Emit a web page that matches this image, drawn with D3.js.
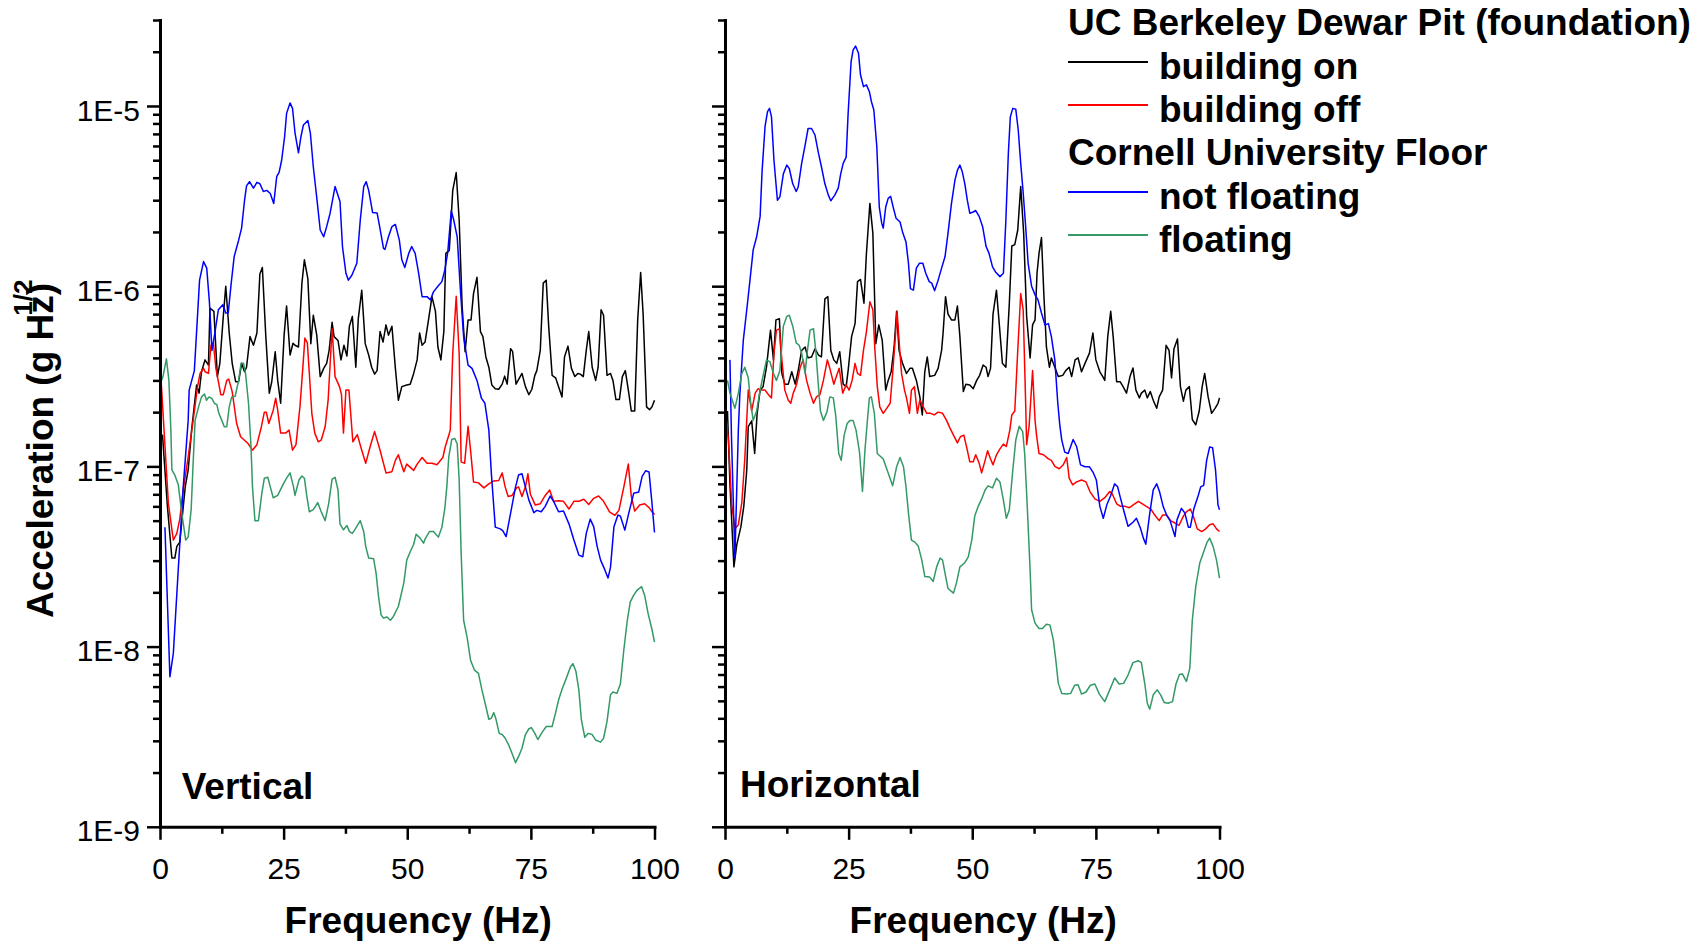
<!DOCTYPE html>
<html><head><meta charset="utf-8">
<script src="https://cdn.jsdelivr.net/npm/d3@7"></script>
<style>
html,body{margin:0;padding:0;background:#fff;}
svg{display:block;}
text{font-family:"Liberation Sans",Arial,Helvetica,sans-serif;}
</style></head><body>
<svg id="chart" width="1703" height="943"></svg>
<script>
// ---------- labels ----------
const panelNames = ["Vertical", "Horizontal"];
const seriesNames = ["building on", "building off", "not floating", "floating"];
const seriesColors = ["#000000", "#ff0000", "#0000ff", "#339966"];
const legendGroups = ["UC Berkeley Dewar Pit (foundation)", "Cornell University Floor"];
const xTickValues = [0, 25, 50, 75, 100];
const xMinorTickValues = [12.5, 37.5, 62.5, 87.5];
const yTickValues = [1e-9, 1e-8, 1e-7, 1e-6, 1e-5];
const yTickLabels = ["1E-9", "1E-8", "1E-7", "1E-6", "1E-5"];
const xTitle = "Frequency (Hz)";
const yTitle = "Acceleration (g Hz";
const yTitleSup = "1/2";

// ---------- data: [frequency Hz, acceleration] ----------
const vertOn = [[0.5,1.5e-7],[1.5,6e-8],[2.4,3.1e-8],[3.0,3.1e-8],[3.4,3.6e-8],[4.0,3.8e-8],[5.1,7.7e-8],[5.7,9.55e-8],[6.4,1.6e-7],[7.4,2.83e-7],[7.9,2.55e-7],[8.4,3.35e-7],[9.1,3.9e-7],[9.8,3.65e-7],[10.1,7.55e-7],[10.9,7.25e-7],[11.6,3.15e-7],[12.1,3.73e-7],[12.8,6.8e-7],[13.3,1.0e-6],[14.0,5.5e-7],[14.6,3.73e-7],[15.3,2.95e-7],[15.9,2.95e-7],[16.5,3.73e-7],[17.1,3.35e-7],[17.5,3.55e-7],[18.2,5.25e-7],[18.9,4.7e-7],[19.6,5.5e-7],[20.2,1.17e-6],[20.7,1.27e-6],[21.4,5.25e-7],[22.1,2.55e-7],[22.6,2.95e-7],[23.3,4.33e-7],[23.8,3.0e-7],[24.4,2.24e-7],[25.1,5.35e-7],[25.6,7.77e-7],[26.3,4.15e-7],[26.9,4.82e-7],[27.3,4.7e-7],[28.0,4.6e-7],[28.7,1.04e-6],[29.2,1.4e-6],[29.9,1.1e-6],[30.5,4.8e-7],[31.0,6.9e-7],[31.7,5.35e-7],[32.4,3.15e-7],[33.1,3.5e-7],[33.7,3.73e-7],[34.2,4.4e-7],[34.8,6.3e-7],[35.2,5.25e-7],[36.0,5.0e-7],[36.6,3.9e-7],[37.2,4.7e-7],[37.8,4.1e-7],[38.3,6.0e-7],[38.9,6.8e-7],[39.6,3.55e-7],[40.1,6.6e-7],[40.8,9.5e-7],[41.5,4.8e-7],[42.2,4.15e-7],[42.8,3.55e-7],[43.4,3.25e-7],[43.9,3.4e-7],[44.5,5.6e-7],[45.1,4.9e-7],[45.7,6.1e-7],[46.2,5.35e-7],[46.9,6.0e-7],[47.6,3.5e-7],[48.2,2.33e-7],[48.9,2.77e-7],[49.9,2.83e-7],[50.6,2.86e-7],[51.3,3.28e-7],[52.0,3.9e-7],[52.5,5.5e-7],[53.0,4.7e-7],[53.6,4.9e-7],[54.3,6.5e-7],[55.0,8.75e-7],[55.7,7.25e-7],[56.2,4.6e-7],[56.8,3.9e-7],[57.4,5.6e-7],[57.8,1.52e-6],[58.5,1.58e-6],[59.2,3.4e-6],[59.9,4.27e-6],[60.5,2.33e-6],[61.1,7.7e-7],[61.7,4.33e-7],[62.3,6.5e-7],[62.9,6.5e-7],[63.4,9.1e-7],[64.1,1.12e-6],[64.8,5.6e-7],[65.3,5.25e-7],[65.9,4.05e-7],[66.5,3.55e-7],[67.1,2.83e-7],[67.8,2.7e-7],[68.5,2.68e-7],[69.2,2.86e-7],[69.7,3.17e-7],[70.2,2.86e-7],[70.9,4.5e-7],[71.3,4.35e-7],[72.0,2.86e-7],[72.7,3.1e-7],[73.2,3.28e-7],[73.9,2.77e-7],[74.6,2.5e-7],[75.2,2.68e-7],[75.8,3.2e-7],[76.2,3.4e-7],[76.9,4.4e-7],[77.5,1.04e-6],[78.1,1.08e-6],[78.6,6.0e-7],[79.3,3.2e-7],[80.0,3.1e-7],[80.6,2.77e-7],[81.3,2.43e-7],[81.8,4.05e-7],[82.5,4.65e-7],[83.2,3.5e-7],[83.9,3.15e-7],[84.5,3.28e-7],[85.0,3.25e-7],[85.6,3.15e-7],[86.2,4.4e-7],[86.7,5.6e-7],[87.4,3.55e-7],[88.1,3.0e-7],[88.6,3.55e-7],[89.2,7.4e-7],[89.7,6.9e-7],[90.4,3.2e-7],[91.1,3.28e-7],[91.6,3.0e-7],[92.2,2.35e-7],[92.9,2.35e-7],[93.5,3.15e-7],[94.1,3.4e-7],[94.8,2.55e-7],[95.3,2.03e-7],[96.0,2.03e-7],[96.6,6.5e-7],[97.2,1.19e-6],[97.7,7.0e-7],[98.4,2.14e-7],[99.0,2.06e-7],[99.5,2.14e-7],[100,2.33e-7]];

const vertOff = [[0,3.2e-7],[0.3,2.77e-7],[0.7,1.8e-7],[1.7,6.2e-8],[2.7,3.9e-8],[3.4,4.25e-8],[4.0,5.1e-8],[4.7,7.4e-8],[5.7,1.13e-7],[6.7,1.8e-7],[7.6,2.77e-7],[8.1,3.28e-7],[8.8,3.5e-7],[9.1,3.35e-7],[9.8,3.28e-7],[10.3,4.7e-7],[10.8,4.85e-7],[11.3,3.5e-7],[12.3,2.5e-7],[12.8,2.5e-7],[13.5,3.0e-7],[13.9,3.05e-7],[14.6,2.6e-7],[15.5,1.73e-7],[16.3,1.46e-7],[17.8,1.34e-7],[18.7,1.23e-7],[19.6,1.32e-7],[20.5,1.66e-7],[21.1,2.0e-7],[21.5,2.0e-7],[22.0,1.73e-7],[22.9,2.05e-7],[23.4,2.39e-7],[23.8,2.05e-7],[24.4,1.53e-7],[25.4,1.53e-7],[26.1,1.59e-7],[26.8,1.23e-7],[27.5,1.32e-7],[28.3,2.14e-7],[28.9,3.58e-7],[29.3,5.15e-7],[29.8,4.85e-7],[30.2,3.28e-7],[30.7,1.97e-7],[31.3,1.53e-7],[32.0,1.37e-7],[32.6,1.4e-7],[33.4,1.66e-7],[34.0,2.33e-7],[34.8,5.8e-7],[35.4,3.15e-7],[36.3,2.77e-7],[36.7,2.5e-7],[37.1,1.53e-7],[37.6,2.65e-7],[38.2,2.65e-7],[39.0,1.37e-7],[39.9,1.5e-7],[40.8,1.23e-7],[41.6,1.04e-7],[42.5,1.29e-7],[43.4,1.56e-7],[44.5,1.23e-7],[45.7,9.2e-8],[46.9,9.35e-8],[47.6,1.08e-7],[48.2,1.16e-7],[49.3,9.35e-8],[49.9,1.03e-7],[51.3,9.5e-8],[52.0,1.03e-7],[53.0,1.12e-7],[54.0,1.04e-7],[55.0,1.04e-7],[56.0,1.02e-7],[57.2,1.12e-7],[57.7,1.29e-7],[58.4,1.49e-7],[58.7,1.59e-7],[59.2,4.23e-7],[59.9,8.8e-7],[60.5,4.2e-7],[60.9,1.06e-7],[61.6,1.04e-7],[62.3,1.67e-7],[62.8,1.23e-7],[63.4,8.2e-8],[64.4,8.1e-8],[65.5,7.6e-8],[66.5,8.0e-8],[67.5,8.3e-8],[68.5,8.35e-8],[69.2,9.2e-8],[69.8,7.7e-8],[70.4,6.8e-8],[71.2,6.9e-8],[72.1,7.6e-8],[72.5,7.7e-8],[73.2,6.8e-8],[73.9,7.7e-8],[74.4,9.1e-8],[74.9,7.0e-8],[75.9,6.1e-8],[76.9,6.2e-8],[77.9,6.9e-8],[78.8,7.4e-8],[79.6,6.4e-8],[80.6,6.45e-8],[81.6,6.4e-8],[82.7,5.8e-8],[83.7,6.4e-8],[84.7,6.4e-8],[85.7,6.57e-8],[86.7,6.15e-8],[87.7,6.65e-8],[88.7,6.85e-8],[89.7,6.4e-8],[90.9,5.6e-8],[92.0,5.35e-8],[92.8,5.7e-8],[93.8,7.7e-8],[94.7,1.03e-7],[95.3,6.85e-8],[96.0,5.65e-8],[97.0,6.1e-8],[98.0,6.2e-8],[98.9,5.9e-8],[99.5,5.6e-8],[100,5.4e-8]];

const vertNotFloating = [[1.0,4.6e-8],[2.0,6.8e-9],[2.7,9.2e-9],[3.7,2.7e-8],[4.7,7.7e-8],[5.7,1.8e-7],[5.9,2.65e-7],[6.95,3.4e-7],[8.0,1.08e-6],[8.8,1.37e-6],[9.45,1.26e-6],[10.0,8.1e-7],[10.5,4.4e-7],[11.1,5.5e-7],[11.8,7.4e-7],[12.7,7.9e-7],[13.3,7.1e-7],[13.8,7.1e-7],[14.4,1.04e-6],[15.0,1.46e-6],[15.9,1.8e-6],[16.5,2.1e-6],[17.1,3.0e-6],[17.5,3.6e-6],[18.1,3.8e-6],[18.9,3.5e-6],[19.6,3.77e-6],[20.2,3.7e-6],[20.9,3.35e-6],[21.6,3.4e-6],[22.3,3.27e-6],[23.0,2.88e-6],[23.6,4.05e-6],[24.1,4.3e-6],[24.6,5.0e-6],[25.2,6.75e-6],[25.6,9.1e-6],[26.3,1.04e-5],[26.8,9.7e-6],[27.3,7.1e-6],[28.0,5.5e-6],[28.5,6.75e-6],[29.0,7.85e-6],[29.9,8.3e-6],[30.4,7.1e-6],[31.0,4.6e-6],[31.7,3.1e-6],[32.4,2.05e-6],[33.1,1.88e-6],[33.7,2.14e-6],[34.4,2.54e-6],[35.4,3.57e-6],[36.4,2.95e-6],[36.9,1.66e-6],[37.6,1.18e-6],[38.1,1.08e-6],[38.8,1.15e-6],[39.8,1.34e-6],[40.5,2.33e-6],[41.2,3.57e-6],[41.7,3.8e-6],[42.2,3.4e-6],[43.0,2.56e-6],[43.9,2.55e-6],[44.3,2.23e-6],[45.2,1.62e-6],[45.5,1.6e-6],[46.2,1.88e-6],[46.9,2.14e-6],[47.6,2.2e-6],[48.4,1.8e-6],[48.9,1.4e-6],[49.5,1.27e-6],[50.3,1.52e-6],[50.9,1.66e-6],[51.6,1.52e-6],[52.3,1.18e-6],[53.0,8.75e-7],[54.0,8.75e-7],[54.7,8.4e-7],[55.3,9.3e-7],[56.2,1.0e-6],[57.0,1.06e-6],[57.6,1.23e-6],[58.2,1.55e-6],[58.9,2.62e-6],[59.4,2.33e-6],[60.1,1.88e-6],[60.7,1.0e-6],[61.4,5.25e-7],[62.3,3.65e-7],[63.1,3.5e-7],[64.1,3.0e-7],[65.0,2.39e-7],[65.7,2.24e-7],[66.5,1.59e-7],[67.0,9.2e-8],[67.8,4.6e-8],[68.8,4.5e-8],[69.3,4.4e-8],[70.0,4.08e-8],[70.9,5.5e-8],[71.9,7.7e-8],[72.5,8.95e-8],[73.2,9.1e-8],[73.7,8.05e-8],[74.6,6.5e-8],[75.6,5.54e-8],[76.2,5.7e-8],[77.1,5.6e-8],[77.9,6.0e-8],[78.9,6.85e-8],[79.6,6.4e-8],[80.6,5.6e-8],[81.6,5.65e-8],[82.7,4.8e-8],[83.7,3.9e-8],[84.7,3.22e-8],[85.5,3.15e-8],[86.2,4.25e-8],[87.0,5.1e-8],[87.7,4.63e-8],[88.4,3.6e-8],[89.1,3.02e-8],[89.9,2.69e-8],[90.6,2.4e-8],[91.1,2.75e-8],[91.8,4.63e-8],[92.6,5.37e-8],[93.1,5.3e-8],[94.0,4.43e-8],[94.8,5.5e-8],[95.8,7.1e-8],[96.8,7.2e-8],[97.5,8.8e-8],[98.2,9.45e-8],[98.9,9.3e-8],[99.5,6.2e-8],[100,4.3e-8]];

const vertFloating = [[0.3,3.0e-7],[0.6,3.15e-7],[1.3,3.95e-7],[1.8,3.0e-7],[2.2,1.59e-7],[2.4,9.55e-8],[3.0,8.95e-8],[3.7,7.9e-8],[4.4,5.5e-8],[5.2,3.9e-8],[5.7,4.05e-8],[6.3,5.75e-8],[6.7,1.04e-7],[7.1,1.8e-7],[7.8,2.14e-7],[8.4,2.43e-7],[9.0,2.52e-7],[9.4,2.33e-7],[9.9,2.43e-7],[10.5,2.38e-7],[11.0,2.24e-7],[11.5,2.2e-7],[11.9,1.97e-7],[12.5,1.8e-7],[13.0,1.66e-7],[13.5,1.66e-7],[14.0,2.14e-7],[14.5,2.43e-7],[15.2,2.45e-7],[15.9,3.0e-7],[16.4,3.73e-7],[16.9,3.73e-7],[17.3,3.28e-7],[17.9,2.24e-7],[18.4,1.29e-7],[18.7,7.7e-8],[19.2,5.0e-8],[19.9,5.0e-8],[20.6,7.1e-8],[21.1,8.6e-8],[21.8,8.7e-8],[22.3,7.7e-8],[22.9,6.7e-8],[23.8,6.9e-8],[25.0,8.05e-8],[25.6,8.6e-8],[26.3,9.2e-8],[27.0,7.7e-8],[27.3,6.9e-8],[28.1,8.4e-8],[28.7,8.85e-8],[29.2,8.6e-8],[29.7,6.8e-8],[30.2,5.6e-8],[31.0,5.75e-8],[31.9,6.3e-8],[32.6,5.6e-8],[33.4,5.0e-8],[34.1,6.2e-8],[34.8,8.5e-8],[35.4,8.7e-8],[36.0,7.4e-8],[36.4,4.8e-8],[37.1,4.45e-8],[37.8,4.7e-8],[38.3,4.35e-8],[38.9,4.25e-8],[39.5,4.5e-8],[40.5,5.0e-8],[41.2,4.35e-8],[41.6,3.6e-8],[42.2,3.1e-8],[43.2,3.07e-8],[43.7,2.55e-8],[44.2,1.89e-8],[44.7,1.5e-8],[45.2,1.44e-8],[45.9,1.46e-8],[46.6,1.4e-8],[47.2,1.47e-8],[48.2,1.67e-8],[49.3,2.25e-8],[49.9,3.02e-8],[50.6,3.36e-8],[51.3,3.7e-8],[51.8,4.2e-8],[52.6,4.0e-8],[53.3,3.75e-8],[53.6,3.95e-8],[54.5,4.35e-8],[55.3,4.35e-8],[56.3,4.05e-8],[57.0,4.6e-8],[57.6,5.85e-8],[58.0,7.7e-8],[58.4,1.13e-7],[59.0,1.41e-7],[59.6,1.43e-7],[60.1,1.33e-7],[60.5,8.4e-8],[60.9,3.3e-8],[61.4,1.4e-8],[62.1,1.13e-8],[62.8,8.4e-9],[63.6,7.4e-9],[64.4,7.1e-9],[65.1,5.75e-9],[65.9,4.65e-9],[66.5,3.95e-9],[67.0,4.0e-9],[67.5,4.3e-9],[67.9,4.0e-9],[68.6,3.3e-9],[69.2,3.25e-9],[69.8,3.1e-9],[70.5,2.85e-9],[71.2,2.55e-9],[71.9,2.27e-9],[72.5,2.45e-9],[73.2,2.73e-9],[73.9,3.25e-9],[74.6,3.5e-9],[75.1,3.55e-9],[75.8,3.3e-9],[76.4,3.05e-9],[77.3,3.35e-9],[78.1,3.6e-9],[79.3,3.6e-9],[80.0,4.3e-9],[80.6,5.05e-9],[81.3,5.8e-9],[82.1,6.6e-9],[83.0,7.7e-9],[83.5,8.05e-9],[84.1,7.3e-9],[84.7,5.75e-9],[85.2,3.95e-9],[85.9,3.14e-9],[86.6,3.3e-9],[87.4,3.25e-9],[88.1,3.03e-9],[89.1,2.95e-9],[89.7,3.1e-9],[90.4,3.85e-9],[91.1,5.4e-9],[91.6,5.6e-9],[92.4,5.5e-9],[93.1,6.2e-9],[93.8,9.6e-9],[94.5,1.4e-8],[95.1,1.77e-8],[95.8,1.93e-8],[96.5,2.06e-8],[97.4,2.15e-8],[98.0,1.93e-8],[98.7,1.53e-8],[99.5,1.24e-8],[100,1.06e-8]];

const horizOn = [[0.5,2.03e-7],[1.0,8e-8],[1.8,2.77e-8],[2.4,3.7e-8],[3.2,4.6e-8],[3.8,6.0e-8],[4.4,9.55e-8],[4.7,1.66e-7],[5.4,1.79e-7],[6.0,1.18e-7],[6.5,1.97e-7],[7.1,2.65e-7],[7.7,2.77e-7],[8.4,3.58e-7],[9.2,5.7e-7],[9.8,3.9e-7],[10.3,6.5e-7],[11.0,6.6e-7],[11.5,3.28e-7],[12.1,2.86e-7],[12.8,2.86e-7],[13.5,3.35e-7],[14.2,2.86e-7],[14.8,3.4e-7],[15.5,4.4e-7],[16.2,4.6e-7],[16.8,4.0e-7],[17.5,4.05e-7],[18.2,4.5e-7],[18.9,4.15e-7],[19.5,4.05e-7],[20.2,8.5e-7],[20.8,8.75e-7],[21.4,4.4e-7],[22.0,3.9e-7],[22.6,3.73e-7],[23.2,4.33e-7],[23.9,2.86e-7],[24.5,2.77e-7],[24.9,3.4e-7],[25.6,5.25e-7],[26.3,6.2e-7],[26.8,1.06e-6],[27.4,1.09e-6],[28.1,8.05e-7],[28.6,1.52e-6],[29.3,2.88e-6],[29.9,1.97e-6],[30.5,4.8e-7],[31.1,6.1e-7],[31.8,5.0e-7],[32.5,2.65e-7],[33.0,3.0e-7],[33.6,3.35e-7],[34.2,4.6e-7],[34.7,7.25e-7],[35.2,4.4e-7],[35.9,3.73e-7],[36.7,3.28e-7],[37.4,3.5e-7],[37.9,3.5e-7],[38.7,3.0e-7],[39.4,2.43e-7],[39.9,1.93e-7],[40.4,3.35e-7],[40.9,4.05e-7],[41.4,3.15e-7],[42.4,3.2e-7],[43.1,3.5e-7],[43.8,4.4e-7],[44.1,5.5e-7],[44.6,8.75e-7],[45.1,7.0e-7],[45.8,6.5e-7],[46.5,6.5e-7],[47.0,7.77e-7],[47.5,5.25e-7],[48.2,2.6e-7],[48.7,2.86e-7],[49.5,2.83e-7],[50.2,2.7e-7],[50.9,3.0e-7],[51.5,3.2e-7],[52.2,3.65e-7],[52.8,3.55e-7],[53.2,3.15e-7],[53.7,3.5e-7],[54.2,7.0e-7],[54.9,9.5e-7],[55.5,6.0e-7],[56.1,3.73e-7],[56.8,3.55e-7],[57.5,8.05e-7],[58.0,1.67e-6],[58.6,1.7e-6],[59.2,2.05e-6],[59.8,3.57e-6],[60.4,1.97e-6],[61.0,6.8e-7],[61.7,4.0e-7],[62.2,6.1e-7],[62.7,6.5e-7],[63.1,1.18e-6],[63.5,1.52e-6],[64.0,1.86e-6],[64.5,8.75e-7],[65.0,4.6e-7],[65.6,3.55e-7],[66.0,4.0e-7],[66.7,3.55e-7],[67.4,3.15e-7],[68.3,3.2e-7],[68.9,3.4e-7],[69.6,3.55e-7],[70.1,3.15e-7],[70.8,3.9e-7],[71.4,4.0e-7],[72.1,3.35e-7],[72.8,3.73e-7],[73.7,4.25e-7],[74.4,5.5e-7],[75.0,3.9e-7],[75.8,3.35e-7],[76.4,3.15e-7],[76.8,3.0e-7],[77.4,5.25e-7],[78.0,7.25e-7],[78.5,5.25e-7],[79.2,2.95e-7],[79.9,2.95e-7],[80.5,2.77e-7],[81.2,2.55e-7],[81.9,3.15e-7],[82.5,3.52e-7],[83.1,2.65e-7],[83.8,2.4e-7],[84.2,2.55e-7],[84.9,2.65e-7],[85.4,2.4e-7],[86.0,2.6e-7],[86.6,2.33e-7],[87.3,2.1e-7],[87.8,2.43e-7],[88.5,2.65e-7],[89.2,4.7e-7],[89.8,4.4e-7],[90.3,3.1e-7],[90.8,4.5e-7],[91.5,5.1e-7],[92.1,2.77e-7],[92.7,2.3e-7],[93.2,2.65e-7],[93.9,2.77e-7],[94.5,1.82e-7],[95.2,1.7e-7],[95.9,2.03e-7],[96.5,2.77e-7],[97.0,3.28e-7],[97.7,2.43e-7],[98.4,1.97e-7],[99.1,2.1e-7],[99.7,2.24e-7],[100,2.4e-7]];

const horizOff = [[0,2.1e-7],[0.7,1.4e-7],[1.35,6.2e-8],[2.0,4.5e-8],[2.7,4.75e-8],[3.4,6.3e-8],[4.0,1.1e-7],[4.7,2.65e-7],[5.4,2.03e-7],[6.1,2.55e-7],[6.7,2.7e-7],[7.4,2.65e-7],[8.1,2.65e-7],[8.8,2.5e-7],[9.4,2.4e-7],[9.9,4.25e-7],[10.4,5.7e-7],[11.0,5.8e-7],[11.5,3.9e-7],[12.1,2.65e-7],[12.8,2.33e-7],[13.3,2.24e-7],[13.8,2.55e-7],[14.5,2.86e-7],[15.2,3.55e-7],[15.8,3.9e-7],[16.5,3.0e-7],[17.2,2.55e-7],[17.9,2.24e-7],[18.5,2.43e-7],[19.2,2.5e-7],[19.9,3.0e-7],[20.7,3.9e-7],[21.2,3.5e-7],[22.0,2.86e-7],[22.6,3.2e-7],[23.1,3.5e-7],[23.8,2.55e-7],[24.5,2.83e-7],[25.1,2.65e-7],[25.7,3.0e-7],[26.3,3.73e-7],[26.8,3.28e-7],[27.4,3.2e-7],[28.0,4.4e-7],[28.6,5.6e-7],[29.3,8.2e-7],[29.9,7.4e-7],[30.3,4.5e-7],[30.8,2.77e-7],[31.3,2.14e-7],[32.0,1.97e-7],[32.7,2.1e-7],[33.4,2.24e-7],[33.9,3.28e-7],[34.4,5.0e-7],[34.8,7.25e-7],[35.2,5.0e-7],[35.7,3.28e-7],[36.3,2.65e-7],[36.7,2.4e-7],[37.3,1.97e-7],[37.7,2.65e-7],[38.3,2.77e-7],[38.9,1.97e-7],[39.4,2.33e-7],[40.1,2.14e-7],[40.8,1.97e-7],[41.6,1.97e-7],[42.3,1.93e-7],[43.1,2.0e-7],[44.0,1.97e-7],[44.8,1.8e-7],[45.5,1.63e-7],[46.2,1.49e-7],[47.0,1.35e-7],[47.6,1.46e-7],[48.3,1.49e-7],[49.0,1.23e-7],[49.5,1.06e-7],[50.2,1.06e-7],[50.7,1.16e-7],[51.4,1.04e-7],[51.9,9.2e-8],[52.6,1.08e-7],[53.1,1.22e-7],[53.7,1.1e-7],[54.2,1.02e-7],[54.9,1.16e-7],[55.6,1.25e-7],[56.3,1.33e-7],[56.9,1.29e-7],[57.6,1.59e-7],[58.0,1.93e-7],[58.6,2.03e-7],[59.2,4.4e-7],[59.8,9.1e-7],[60.3,7.4e-7],[60.8,2.24e-7],[61.0,1.32e-7],[61.5,1.67e-7],[62.2,3.4e-7],[62.7,1.8e-7],[63.0,1.49e-7],[63.5,1.18e-7],[64.4,1.16e-7],[65.4,1.1e-7],[66.0,1.08e-7],[66.7,1.0e-7],[67.6,9.7e-8],[68.4,1.02e-7],[69.1,1.12e-7],[69.6,8.6e-8],[70.3,7.9e-8],[71.1,8.2e-8],[72.1,8.4e-8],[73.0,8.2e-8],[73.8,7.25e-8],[74.8,6.6e-8],[75.8,6.4e-8],[76.8,6.7e-8],[77.8,7.25e-8],[78.3,7.05e-8],[79.2,6.2e-8],[80.0,6.0e-8],[80.9,6.0e-8],[81.8,5.9e-8],[82.7,6.15e-8],[83.6,6.4e-8],[84.4,6.2e-8],[85.2,6.0e-8],[86.1,5.8e-8],[86.9,5.37e-8],[87.8,5.0e-8],[88.5,5.37e-8],[89.3,5.37e-8],[90.1,5.0e-8],[91.0,4.85e-8],[91.8,4.7e-8],[92.7,5.3e-8],[93.3,5.6e-8],[94.1,5.8e-8],[94.7,5.3e-8],[95.5,4.5e-8],[96.4,4.35e-8],[97.2,4.5e-8],[98.0,4.75e-8],[98.7,4.8e-8],[99.4,4.5e-8],[100,4.35e-8]];

const horizNotFloating = [[1.0,3.9e-7],[1.3,1.5e-7],[2.0,3.1e-8],[2.7,1.6e-7],[3.0,2.5e-7],[3.7,5.0e-7],[4.4,7.4e-7],[5.05,1.08e-6],[5.7,1.59e-6],[6.4,1.88e-6],[7.1,2.44e-6],[7.5,4.35e-6],[8.1,7.7e-6],[8.6,9.3e-6],[9.0,9.7e-6],[9.4,8.7e-6],[9.9,5.0e-6],[10.6,3.0e-6],[11.1,3.13e-6],[11.8,4.2e-6],[12.5,4.7e-6],[13.0,4.5e-6],[13.7,3.7e-6],[14.4,3.35e-6],[14.8,3.55e-6],[15.5,4.8e-6],[16.2,6.07e-6],[16.8,7.5e-6],[17.5,7.5e-6],[18.2,6.9e-6],[18.9,5.47e-6],[19.5,4.6e-6],[20.2,3.7e-6],[20.9,3.2e-6],[21.4,2.98e-6],[22.2,3.2e-6],[22.9,3.5e-6],[23.4,4.2e-6],[23.9,4.8e-6],[24.5,5.2e-6],[24.9,9.1e-6],[25.5,1.76e-5],[25.9,2.04e-5],[26.4,2.15e-5],[27.0,1.96e-5],[27.4,1.49e-5],[28.0,1.28e-5],[28.6,1.31e-5],[29.2,1.2e-5],[29.6,1.06e-5],[30.1,9.5e-6],[30.7,5.95e-6],[31.2,2.75e-6],[31.7,2.23e-6],[32.0,2.1e-6],[32.5,2.75e-6],[33.0,3.07e-6],[33.5,3.15e-6],[34.0,2.75e-6],[34.6,2.38e-6],[35.4,2.27e-6],[35.9,2.0e-6],[36.6,1.76e-6],[37.1,1.34e-6],[37.5,9.7e-7],[38.1,9.5e-7],[38.7,1.26e-6],[39.3,1.34e-6],[40.0,1.34e-6],[40.6,1.18e-6],[41.3,1.06e-6],[41.8,1.04e-6],[42.4,9.45e-7],[43.1,1.08e-6],[43.8,1.26e-6],[44.5,1.46e-6],[45.1,1.97e-6],[45.8,2.88e-6],[46.5,3.88e-6],[47.0,4.4e-6],[47.5,4.7e-6],[48.0,4.3e-6],[48.5,3.7e-6],[49.0,3.0e-6],[49.5,2.54e-6],[50.2,2.58e-6],[50.7,2.63e-6],[51.4,2.44e-6],[52.1,2.14e-6],[52.8,1.66e-6],[53.4,1.52e-6],[54.1,1.28e-6],[54.8,1.19e-6],[55.6,1.13e-6],[56.3,1.18e-6],[56.8,2.33e-6],[57.3,5.47e-6],[57.7,8.7e-6],[58.2,9.7e-6],[58.8,9.6e-6],[59.3,7.36e-6],[59.8,4.8e-6],[60.3,3.3e-6],[60.8,2.14e-6],[61.3,1.34e-6],[62.0,1.0e-6],[62.7,8.95e-7],[63.3,8.4e-7],[64.0,7.1e-7],[64.7,6.1e-7],[65.4,6.2e-7],[66.0,5.25e-7],[66.7,3.9e-7],[67.3,2.24e-7],[67.7,1.7e-7],[68.1,1.4e-7],[68.7,1.2e-7],[69.4,1.18e-7],[70.4,1.41e-7],[71.1,1.29e-7],[71.9,1.02e-7],[72.8,9.95e-8],[73.7,9.95e-8],[74.5,9.2e-8],[75.1,8.4e-8],[75.8,6.0e-8],[76.5,5.15e-8],[77.2,6.1e-8],[78.0,6.9e-8],[78.8,8.0e-8],[79.4,7.7e-8],[79.9,6.8e-8],[80.7,5.6e-8],[81.5,4.65e-8],[82.5,4.9e-8],[83.2,5.15e-8],[84.0,4.55e-8],[84.6,4.0e-8],[85.1,3.7e-8],[85.9,5.5e-8],[86.6,7.4e-8],[87.3,8.0e-8],[87.9,7.2e-8],[88.6,6.0e-8],[89.3,5.37e-8],[90.0,5.0e-8],[91.0,4.08e-8],[91.4,5.05e-8],[92.3,5.85e-8],[93.0,5.5e-8],[93.7,4.6e-8],[94.1,4.6e-8],[94.8,5.8e-8],[95.7,6.9e-8],[96.2,7.7e-8],[96.8,7.85e-8],[97.4,1.08e-7],[98.0,1.28e-7],[98.6,1.27e-7],[99.2,9.55e-8],[99.7,6.1e-8],[100,5.75e-8]];

const horizFloating = [[0.5,3.0e-7],[1.0,2.55e-7],[2.0,2.1e-7],[2.7,2.55e-7],[3.4,3.28e-7],[4.0,3.55e-7],[4.7,3.1e-7],[5.2,2.24e-7],[5.7,1.8e-7],[6.4,2.03e-7],[7.1,2.65e-7],[7.8,3.28e-7],[8.4,3.9e-7],[9.1,3.8e-7],[9.8,3.28e-7],[10.4,3.0e-7],[11.1,3.4e-7],[11.8,6.0e-7],[12.5,6.8e-7],[13.0,6.9e-7],[13.7,6.0e-7],[14.4,4.85e-7],[15.0,4.7e-7],[15.5,4.25e-7],[16.2,3.28e-7],[16.6,4.25e-7],[17.2,5.7e-7],[17.9,5.8e-7],[18.4,4.25e-7],[18.9,2.77e-7],[19.3,2.03e-7],[19.9,1.8e-7],[20.6,2.0e-7],[21.2,2.43e-7],[21.9,2.4e-7],[22.4,1.9e-7],[23.0,1.18e-7],[23.5,1.08e-7],[24.1,1.49e-7],[24.7,1.73e-7],[25.3,1.8e-7],[25.9,1.8e-7],[26.5,1.59e-7],[27.2,1.2e-7],[27.8,7.25e-8],[28.3,1.23e-7],[28.8,1.8e-7],[29.2,2.4e-7],[29.6,2.43e-7],[30.2,1.97e-7],[30.8,1.18e-7],[32.0,1.1e-7],[33.0,9.2e-8],[33.9,7.8e-8],[34.7,9.95e-8],[35.4,1.12e-7],[36.1,9.95e-8],[36.6,7.7e-8],[37.1,5.5e-8],[37.7,3.9e-8],[38.4,3.8e-8],[39.1,3.6e-8],[39.8,3.02e-8],[40.4,2.45e-8],[41.4,2.43e-8],[42.1,2.3e-8],[42.8,2.77e-8],[43.5,3.1e-8],[44.0,3.02e-8],[44.5,2.55e-8],[45.1,2.1e-8],[46.2,1.98e-8],[46.8,2.25e-8],[47.5,2.77e-8],[48.5,2.92e-8],[49.2,3.15e-8],[49.9,3.9e-8],[50.5,5.3e-8],[51.2,6.0e-8],[51.9,6.6e-8],[52.6,7.4e-8],[53.2,7.8e-8],[54.1,7.6e-8],[54.9,8.6e-8],[55.6,8.2e-8],[56.3,6.5e-8],[56.9,5.15e-8],[57.5,5.75e-8],[58.2,9.55e-8],[58.8,1.4e-7],[59.5,1.67e-7],[60.2,1.56e-7],[60.6,1.18e-7],[61.1,6.2e-8],[61.7,2.66e-8],[62.0,1.6e-8],[62.7,1.35e-8],[63.5,1.26e-8],[64.2,1.26e-8],[65.0,1.33e-8],[65.7,1.32e-8],[66.4,1.09e-8],[66.9,8.4e-9],[67.4,6.25e-9],[68.1,5.5e-9],[69.1,5.45e-9],[69.9,5.5e-9],[70.7,6.1e-9],[71.4,6.15e-9],[72.1,5.45e-9],[73.0,5.6e-9],[73.9,6.1e-9],[74.8,6.2e-9],[75.7,5.45e-9],[76.8,4.95e-9],[77.8,5.75e-9],[78.8,6.7e-9],[79.7,6.2e-9],[80.6,6.25e-9],[81.5,6.95e-9],[82.5,8.15e-9],[83.6,8.35e-9],[84.2,8.15e-9],[84.9,6.2e-9],[85.4,4.85e-9],[85.9,4.5e-9],[86.6,5.4e-9],[87.4,5.75e-9],[88.1,5.4e-9],[88.8,4.9e-9],[89.6,4.85e-9],[90.5,4.95e-9],[91.2,6.2e-9],[91.9,7.0e-9],[92.5,7.05e-9],[93.3,6.4e-9],[94.0,7.6e-9],[94.5,1.4e-8],[95.2,2.15e-8],[96.0,2.9e-8],[96.8,3.36e-8],[97.5,3.8e-8],[98.0,4.0e-8],[98.7,3.6e-8],[99.4,3.02e-8],[100,2.4e-8]];

const panelSeries = [
  [vertOn, vertOff, vertNotFloating, vertFloating],
  [horizOn, horizOff, horizNotFloating, horizFloating]
];

// ---------- layout ----------
const svg = d3.select("#chart");
const plotTop = 20, plotBottom = 826.8;
const panelX = [[160, 654.5], [725, 1219.5]];
const panelLabelPos = [[181.7, 799], [740, 797]];
const yMinorTickValues = [];
for (let e = -9; e <= -5; e++) {
  for (let m = 2; m <= 9; m++) {
    const v = m * Math.pow(10, e);
    if (v <= 3.0001e-5) yMinorTickValues.push(v);
  }
}
const y = d3.scaleLog().domain([1e-9, 3e-5]).range([plotBottom, plotTop]);

const styleAxis = (g, tw) => {
  g.select(".domain").attr("stroke", "#000").attr("stroke-width", 3).attr("stroke-linecap", "square");
  g.selectAll(".tick line").attr("stroke", "#000").attr("stroke-width", tw);
};

panelNames.forEach((pname, p) => {
  const [x0, x1] = panelX[p];
  const x = d3.scaleLinear().domain([0, 100]).range([x0, x1]);
  const g = svg.append("g");

  // curves
  const line = d3.line().x(d => x(d[0])).y(d => y(d[1]));
  panelSeries[p].forEach((data, i) => {
    g.append("path").datum(data)
      .attr("fill", "none").attr("stroke", seriesColors[i])
      .attr("stroke-width", 1.5).attr("stroke-linejoin", "round")
      .attr("d", line);
  });

  // y minor ticks
  const yMinor = g.append("g").attr("transform", `translate(${x0},0)`)
    .call(d3.axisLeft(y).tickValues(yMinorTickValues).tickSize(7).tickFormat(""));
  yMinor.select(".domain").remove();
  yMinor.selectAll(".tick line").attr("stroke", "#000").attr("stroke-width", 2.5);

  // y major ticks
  const yAx = g.append("g").attr("transform", `translate(${x0},0)`)
    .call(d3.axisLeft(y).tickValues(yTickValues).tickSize(13).tickSizeOuter(0).tickPadding(7)
      .tickFormat((d, i) => p === 0 ? yTickLabels[i] : ""));
  styleAxis(yAx, 2.5);
  yAx.selectAll(".tick text").attr("font-size", 30).attr("fill", "#000")
    .attr("font-family", "Liberation Sans, Arial, sans-serif").attr("dy", "0.47em");

  // x minor ticks
  const xMinor = g.append("g").attr("transform", `translate(0,${plotBottom})`)
    .call(d3.axisBottom(x).tickValues(xMinorTickValues).tickSize(7).tickFormat(""));
  xMinor.select(".domain").remove();
  xMinor.selectAll(".tick line").attr("stroke", "#000").attr("stroke-width", 2.5);

  // x major
  const xAx = g.append("g").attr("transform", `translate(0,${plotBottom})`)
    .call(d3.axisBottom(x).tickValues(xTickValues).tickSize(13).tickSizeOuter(0).tickFormat(d3.format("d")));
  styleAxis(xAx, 2.5);
  xAx.selectAll(".tick text").attr("font-size", 30).attr("fill", "#000")
    .attr("font-family", "Liberation Sans, Arial, sans-serif")
    .attr("y", 52).attr("dy", 0);

  // x title
  svg.append("text").attr("x", (x0 + x1) / 2 + 11).attr("y", 933)
    .attr("text-anchor", "middle").attr("font-size", 37).attr("font-weight", "bold")
    .text(xTitle);

  // panel label
  svg.append("text").attr("x", panelLabelPos[p][0]).attr("y", panelLabelPos[p][1])
    .attr("font-size", 37).attr("font-weight", "bold").text(pname);
});

// y title
const yt = svg.append("g").attr("transform", "translate(53,618) rotate(-90)");
const ytMain = yt.append("text").attr("x", 0).attr("y", 0)
  .attr("font-size", 37).attr("font-weight", "bold");
ytMain.append("tspan").text(yTitle);
ytMain.append("tspan").text(")");
const probe = yt.append("text").attr("font-size", 37).attr("font-weight", "bold").text("Acceleration (g H");
const lenH = probe.node().getComputedTextLength();
probe.remove();
yt.append("text").attr("x", lenH - 2).attr("y", -21)
  .attr("font-size", 26).attr("font-weight", "bold").text(yTitleSup);

// legend
const legX = 1068, legLineEnd = 1148, legTextX = 1159;
const legendRows = [
  {type: "head", text: legendGroups[0], base: 35},
  {type: "item", idx: 0, base: 78.5},
  {type: "item", idx: 1, base: 121.5},
  {type: "head", text: legendGroups[1], base: 165},
  {type: "item", idx: 2, base: 208.5},
  {type: "item", idx: 3, base: 251.5}
];
const leg = svg.append("g");
legendRows.forEach(r => {
  if (r.type === "head") {
    leg.append("text").attr("x", legX).attr("y", r.base)
      .attr("font-size", 37).attr("font-weight", "bold").text(r.text);
  } else {
    leg.append("line").attr("x1", legX).attr("x2", legLineEnd)
      .attr("y1", r.base - 16.5).attr("y2", r.base - 16.5)
      .attr("stroke", seriesColors[r.idx]).attr("stroke-width", 2);
    leg.append("text").attr("x", legTextX).attr("y", r.base)
      .attr("font-size", 37).attr("font-weight", "bold").text(seriesNames[r.idx]);
  }
});
</script>
</body></html>
